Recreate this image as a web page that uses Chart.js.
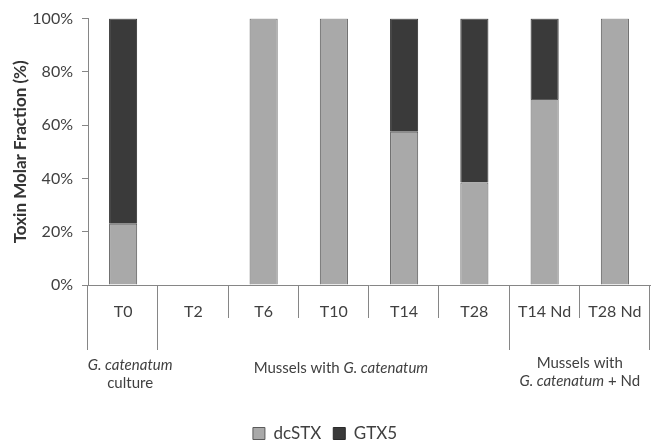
<!DOCTYPE html>
<html>
<head>
<meta charset="utf-8">
<script src="https://cdn.jsdelivr.net/npm/chart.js@4"></script>
<style>
  html, body { margin: 0; padding: 0; background: #fff; }
  #wrap { width: 651px; height: 440px; }
</style>
</head>
<body>
<div id="wrap"><canvas id="chart" width="651" height="440"></canvas></div>
<script>
// Toxin molar fraction per sampling time
const categories = ["T0", "T2", "T6", "T10", "T14", "T28", "T14 Nd", "T28 Nd"];
const dcSTX = [23, null, 100, 100, 57.5, 38.5, 69.8, 100];
const GTX5 = [77, null, 0, 0, 42.5, 61.5, 30.2, 0];
const yTicks = [0, 20, 40, 60, 80, 100];

// group separators (category edges) and group captions
const groupEdges = [0, 1, 6, 8];
const groupCenters = [0.1, 3.1, 6.5];

const FONT = "Lato, 'Noto Sans', sans-serif";
const AXIS = "#868686";
const TEXT = "#404040";

const groupPlugin = {
    id: "groups",
    afterDraw(chart) {
        const ctx = chart.ctx;
        const x = chart.scales.x;
        const top = chart.chartArea.bottom;
        ctx.save();
        ctx.strokeStyle = AXIS;
        ctx.lineWidth = 1;
        for (let i = 0; i <= categories.length; i++) {
            const px = Math.round(x.getPixelForValue(i - 0.5)) - 0.5;
            const len = groupEdges.includes(i) ? 65 : 33;
            ctx.beginPath();
            ctx.moveTo(px, top);
            ctx.lineTo(px, top + len);
            ctx.stroke();
        }

        ctx.fillStyle = TEXT;
        ctx.textBaseline = "middle";
        const norm = "15px " + FONT;
        const ital = "italic 15px " + FONT;

        // draws a line built from [text, italic] pieces centred on cx
        function line(parts, cx, y) {
            let w = 0;
            parts.forEach(p => { ctx.font = p[1] ? ital : norm; w += ctx.measureText(p[0]).width; });
            let sx = cx - w / 2;
            ctx.textAlign = "left";
            parts.forEach(p => {
                ctx.font = p[1] ? ital : norm;
                ctx.fillText(p[0], sx, y);
                sx += ctx.measureText(p[0]).width;
            });
        }

        const c0 = x.getPixelForValue(groupCenters[0]);
        const c1 = x.getPixelForValue(groupCenters[1]);
        const c2 = x.getPixelForValue(groupCenters[2]);
        line([["G. catenatum", true]], c0, top + 80);
        line([["culture", false]], c0, top + 98);
        line([["Mussels with ", false], ["G. catenatum", true]], c1, top + 83);
        line([["Mussels with", false]], c2, top + 78);
        line([["G. catenatum", true], [" + Nd", false]], c2, top + 96);
        ctx.restore();
    }
};

new Chart(document.getElementById("chart"), {
    type: "bar",
    data: {
        labels: categories,
        datasets: [
            {
                label: "dcSTX",
                data: dcSTX,
                backgroundColor: "#a9a9a9",
                borderColor: "#5a5a5a",
                borderWidth: 1,
                barPercentage: 0.4,
                categoryPercentage: 1
            },
            {
                label: "GTX5",
                data: GTX5,
                backgroundColor: "#3a3a3a",
                borderColor: "#2a2a2a",
                borderWidth: 1,
                barPercentage: 0.4,
                categoryPercentage: 1
            }
        ]
    },
    options: {
        responsive: false,
        animation: false,
        layout: { padding: { top: 11, right: 1, left: 0, bottom: -12 } },
        plugins: {
            legend: {
                position: "bottom",
                labels: {
                    color: TEXT,
                    font: { family: FONT, size: 17 },
                    boxWidth: 12,
                    boxHeight: 12,
                    padding: 12
                }
            },
            tooltip: { enabled: false }
        },
        scales: {
            x: {
                stacked: true,
                grid: { display: false },
                border: { display: true, color: AXIS },
                ticks: { color: TEXT, font: { family: FONT, size: 16 }, padding: 9, maxRotation: 0 },
                afterFit(scale) { scale.height = 128; }
            },
            y: {
                stacked: true,
                min: 0,
                max: 100,
                afterBuildTicks(scale) { scale.ticks = yTicks.map(v => ({ value: v })); },
                grid: { drawOnChartArea: false, tickLength: 6, color: AXIS },
                border: { display: true, color: AXIS },
                ticks: {
                    color: TEXT,
                    font: { family: FONT, size: 16 },
                    padding: 9,
                    callback: v => v + "%"
                },
                title: {
                    display: true,
                    text: "Toxin Molar Fraction (%)",
                    color: "#333",
                    font: { family: FONT, size: 17, weight: "bold" },
                    padding: { top: 10, bottom: 0 }
                },
                afterFit(scale) { scale.width = 88; }
            }
        }
    },
    plugins: [groupPlugin]
});
</script>
</body>
</html>
